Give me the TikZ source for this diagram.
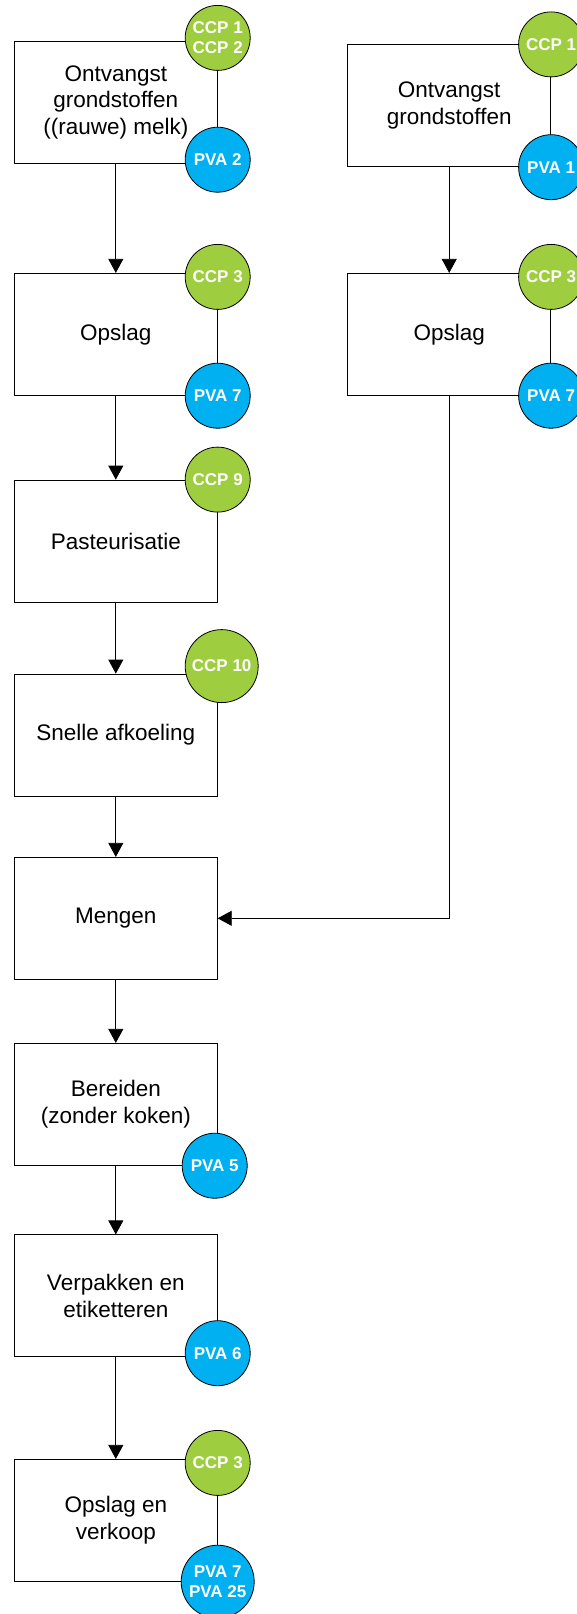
\documentclass[tikz,border=0pt]{standalone}
\usepackage{fontspec}
\setmainfont{Liberation Sans}
\usetikzlibrary{arrows.meta}

\definecolor{ccpgreen}{RGB}{158,206,63}
\definecolor{pvablue}{RGB}{0,176,240}

\tikzset{
  stap/.style={draw, line width=0.8pt, minimum width=203pt, minimum height=122pt,
    inner sep=0pt, align=center, font=\fontsize{22.5}{26.7}\selectfont},
  punt/.style={circle, draw, line width=0.8pt, minimum size=65pt, inner sep=0pt,
    text=white, align=center, font=\bfseries\fontsize{17}{20}\selectfont},
  ccp/.style={punt, fill=ccpgreen},
  pva/.style={punt, fill=pvablue},
  pijl/.style={line width=0.8pt, -{Triangle[length=14pt,width=15pt]}}
}

\begin{document}
\begin{tikzpicture}[x=1pt,y=-1pt]
\useasboundingbox (0,0) rectangle (576,1614);

% left column
\node[stap] (b1) at (115.8,102.3) {Ontvangst\\grondstoffen\\((rauwe) melk)};
\node[stap] (b2) at (115.8,334.3) {Opslag};
\node[stap] (b3) at (115.8,541) {Pasteurisatie};
\node[stap] (b4) at (115.8,735) {Snelle afkoeling};
\node[stap] (b5) at (115.8,918.3) {Mengen};
\node[stap] (b6) at (115.8,1104.3) {Bereiden\\(zonder koken)};
\node[stap] (b7) at (115.8,1295.8) {Verpakken en\\etiketteren};
\node[stap] (b8) at (115.8,1520.3) {Opslag en\\verkoop};

% right column
\node[stap] (r1) at (449.2,105.8) {Ontvangst\\grondstoffen};
\node[stap] (r2) at (449.2,334.3) {Opslag};

% arrows
\foreach \a/\b in {b1/b2,b2/b3,b3/b4,b4/b5,b5/b6,b6/b7,b7/b8}
  \draw[pijl] (\a.south) -- (\b.north);
\draw[pijl] (r1.south) -- (r2.north);
\draw[pijl] (r2.south) |- (b5.east);

% CCP and PVA markers
\node[ccp] (c1) at ([yshift=3pt]b1.north east) {CCP 1\\CCP 2};
\node[pva] (p1) at ([yshift=4pt]b1.south east) {PVA 2};
\node[ccp] (c2) at ([yshift=-4pt]b2.north east) {CCP 3};
\node[pva] (p2) at (b2.south east) {PVA 7};
\node[ccp] (c3) at (b3.north east) {CCP 9};
\node[ccp, minimum size=73pt] (c4) at ([xshift=4pt,yshift=7.5pt]b4.north east) {CCP 10};
\node[pva] (p6) at ([xshift=-3pt]b6.south east) {PVA 5};
\node[pva] (p7) at ([yshift=4pt]b7.south east) {PVA 6};
\node[ccp] (c8) at ([yshift=-4pt]b8.north east) {CCP 3};
\node[pva, minimum size=73pt] (p8) at (b8.south east) {PVA 7\\PVA 25};

\node[ccp] (rc1) at (r1.north east) {CCP 1};
\node[pva] (rp1) at (r1.south east) {PVA 1};
\node[ccp] (rc2) at ([yshift=-4pt]r2.north east) {CCP 3};
\node[pva] (rp2) at (r2.south east) {PVA 7};

\end{tikzpicture}
\end{document}
